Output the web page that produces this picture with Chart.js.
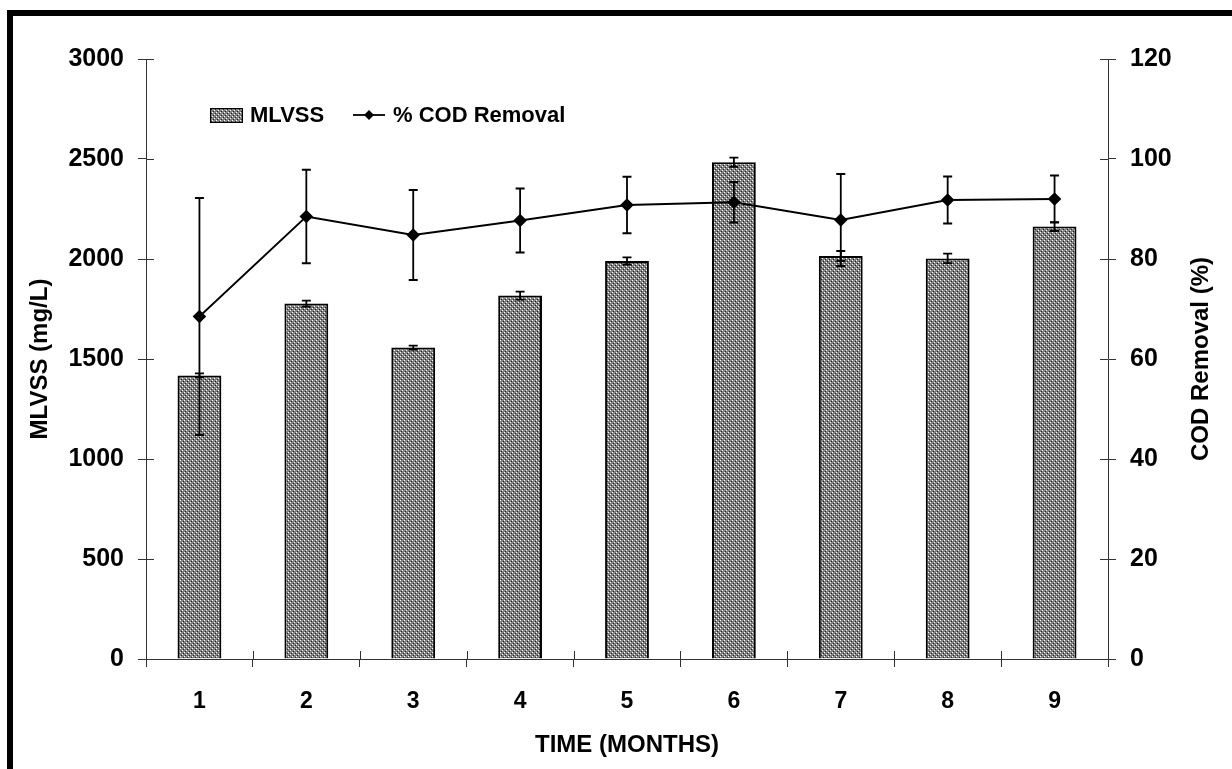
<!DOCTYPE html>
<html>
<head>
<meta charset="utf-8">
<script src="https://cdn.jsdelivr.net/npm/chart.js@4"></script>
<style>
  html, body { margin: 0; padding: 0; background: #fff; }
  #wrap { position: relative; width: 1232px; height: 769px; overflow: hidden; }
  #frame { position: absolute; left: 7px; top: 10px; right: 0; bottom: 0;
           border-top: 6px solid #000; border-left: 6px solid #000; pointer-events: none; }
</style>
</head>
<body>
<div id="wrap">
  <canvas id="myChart" width="1232" height="769"></canvas>
  <div id="frame"></div>
</div>
<script>
// datos
const months = ['1', '2', '3', '4', '5', '6', '7', '8', '9'];
const mlvss = [1418, 1777, 1557, 1817, 1990, 2484, 2015, 2003, 2162];
const mlvssErr = [10, 15, 10, 20, 18, 23, 25, 24, 22];
const codRemoval = [68.5, 88.5, 84.8, 87.7, 90.8, 91.35, 87.8, 91.8, 92.0];
const codErr = [23.7, 9.35, 9, 6.4, 5.65, 4.05, 9.2, 4.7, 4.7];

const xTitle = 'TIME (MONTHS)';
const leftTitle = 'MLVSS (mg/L)';
const rightTitle = 'COD Removal (%)';

const FONT = "Arial, 'Liberation Sans', sans-serif";
const axisColor = '#333';

let ctx = document.getElementById('myChart').getContext('2d');

// relleno punteado de las barras
function makePattern() {
  let c = document.createElement('canvas');
  c.width = 4; c.height = 4;
  let g = c.getContext('2d');
  g.fillStyle = '#808080'; g.fillRect(0, 0, 4, 4);
  g.fillStyle = '#ffffff'; g.fillRect(0, 0, 1, 1); g.fillRect(2, 2, 1, 1);
  g.fillStyle = '#222222'; g.fillRect(1, 3, 1, 1); g.fillRect(3, 1, 1, 1);
  return ctx.createPattern(c, 'repeat');
}
const barFill = makePattern();

// barras de error
const errorBars = {
  id: 'errorBars',
  afterDatasetsDraw(chart) {
    let c = chart.ctx;
    chart.data.datasets.forEach((ds, i) => {
      if (!ds.errors) return;
      let meta = chart.getDatasetMeta(i);
      let scale = chart.scales[ds.yAxisID];
      c.save();
      c.strokeStyle = '#000';
      c.lineWidth = 1.8;
      meta.data.forEach((el, j) => {
        let x = el.x;
        let yTop = scale.getPixelForValue(ds.data[j] + ds.errors[j]);
        let yBot = scale.getPixelForValue(ds.data[j] - ds.errors[j]);
        c.beginPath();
        c.moveTo(x, yTop); c.lineTo(x, yBot);
        c.moveTo(x - 4.5, yTop); c.lineTo(x + 4.5, yTop);
        c.moveTo(x - 4.5, yBot); c.lineTo(x + 4.5, yBot);
        c.stroke();
      });
      c.restore();
    });
  }
};

// marcas que cruzan los ejes, leyenda y titulo derecho
const extras = {
  id: 'extras',
  afterDraw(chart) {
    let c = chart.ctx;
    let area = chart.chartArea;
    let yL = chart.scales.y, yR = chart.scales.y1, x = chart.scales.x;
    c.save();
    c.strokeStyle = axisColor;
    c.lineWidth = 1;
    c.beginPath();
    yL.ticks.forEach((t, i) => {
      let py = Math.round(yL.getPixelForTick(i)) + 0.5;
      c.moveTo(area.left, py); c.lineTo(area.left + 8, py);
    });
    yR.ticks.forEach((t, i) => {
      let py = Math.round(yR.getPixelForTick(i)) + 0.5;
      c.moveTo(area.right - 8, py); c.lineTo(area.right, py);
    });
    for (let i = 0; i <= months.length; i++) {
      let px = Math.round(x.getPixelForValue(i - 0.5)) + 0.5;
      c.moveTo(px, area.bottom - 8); c.lineTo(px, area.bottom);
    }
    c.stroke();

    // leyenda
    let barDs = chart.data.datasets.find(d => d.type === 'bar');
    let lineDs = chart.data.datasets.find(d => d.type === 'line');
    let lx = area.left + 64, ly = area.top + 56;
    c.fillStyle = barFill;
    c.fillRect(lx, ly - 7, 33, 15);
    c.strokeStyle = '#000';
    c.lineWidth = 1;
    c.strokeRect(lx + 0.5, ly - 6.5, 32, 14);
    c.font = 'bold 22px ' + FONT;
    c.fillStyle = '#000';
    c.textBaseline = 'middle';
    c.textAlign = 'left';
    c.fillText(barDs.label, lx + 40, ly + 1);
    let lx2 = lx + 143;
    c.lineWidth = 1.8;
    c.beginPath();
    c.moveTo(lx2, ly); c.lineTo(lx2 + 32, ly);
    c.stroke();
    c.beginPath();
    c.moveTo(lx2 + 16, ly - 5); c.lineTo(lx2 + 21, ly);
    c.lineTo(lx2 + 16, ly + 5); c.lineTo(lx2 + 11, ly);
    c.closePath(); c.fill();
    c.fillText(lineDs.label, lx2 + 40, ly + 1);

    // titulo eje derecho (leido de abajo hacia arriba)
    c.translate(1201, (area.top + area.bottom) / 2);
    c.rotate(-Math.PI / 2);
    c.textAlign = 'center';
    c.font = 'bold 24px ' + FONT;
    c.fillText(rightTitle, 0, 0);
    c.restore();
  }
};

let dataChart = {
  labels: months,
  datasets: [{
    type: 'line',
    label: '% COD Removal',
    data: codRemoval,
    errors: codErr,
    yAxisID: 'y1',
    borderColor: '#000',
    backgroundColor: '#000',
    borderWidth: 1.8,
    tension: 0,
    pointStyle: 'rectRot',
    pointRadius: 5.5,
    pointBackgroundColor: '#000',
    pointBorderColor: '#000',
    order: 0
  }, {
    type: 'bar',
    label: 'MLVSS',
    data: mlvss,
    errors: mlvssErr,
    yAxisID: 'y',
    backgroundColor: barFill,
    borderColor: '#000',
    borderWidth: 2,
    barPercentage: 0.41,
    categoryPercentage: 1,
    order: 1
  }]
};

let options = {
  responsive: false,
  animation: false,
  layout: { padding: { top: 59, left: 0, right: 0, bottom: 0 } },
  plugins: {
    legend: { display: false },
    tooltip: { enabled: false }
  },
  scales: {
    x: {
      offset: true,
      grid: { offset: true, drawOnChartArea: false, drawTicks: true, tickLength: 8, color: axisColor },
      border: { display: true, color: axisColor, width: 1 },
      ticks: { color: '#000', padding: 21, font: { family: FONT, size: 23, weight: 'bold' } },
      title: { display: true, text: xTitle, color: '#000', padding: { top: 0, bottom: 9 },
               font: { family: FONT, size: 24, weight: 'bold' } },
      afterFit(s) { s.height = 110; }
    },
    y: {
      position: 'left',
      min: 0, max: 3000,
      ticks: { stepSize: 500, color: '#000', padding: 14, callback: v => String(v),
               font: { family: FONT, size: 25, weight: 'bold' } },
      grid: { drawOnChartArea: false, drawTicks: true, tickLength: 8, color: axisColor },
      border: { display: true, color: axisColor, width: 1 },
      title: { display: true, text: leftTitle, color: '#000', padding: { top: 26, bottom: 0 },
               font: { family: FONT, size: 24, weight: 'bold' } },
      afterFit(s) { s.width = 146; }
    },
    y1: {
      position: 'right',
      min: 0, max: 120,
      ticks: { stepSize: 20, color: '#000', padding: 14, callback: v => String(v),
               font: { family: FONT, size: 25, weight: 'bold' } },
      grid: { drawOnChartArea: false, drawTicks: true, tickLength: 8, color: axisColor },
      border: { display: true, color: axisColor, width: 1 },
      afterFit(s) { s.width = 124; }
    }
  }
};

let myChart = new Chart(ctx, {
  type: 'bar',
  data: dataChart,
  options: options,
  plugins: [errorBars, extras]
});
</script>
</body>
</html>
